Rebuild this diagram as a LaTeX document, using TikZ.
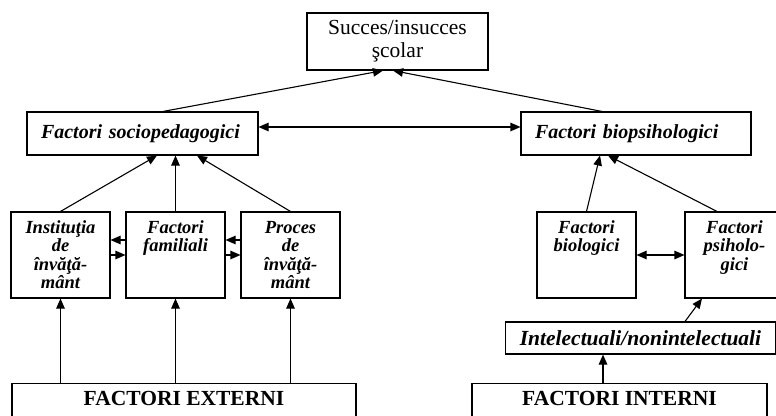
\documentclass[tikz,border=0pt]{standalone}
\usepackage{fontspec}
\setmainfont{Liberation Serif}
\usepackage{tikz}
\usetikzlibrary{arrows.meta,calc}
\tikzset{
  box/.style={draw, line width=1.1pt, inner sep=0pt, align=center},
  titlebox/.style={box, minimum width=181pt, minimum height=57pt, font=\fontsize{21.5}{23}\selectfont},
  groupbox/.style={box, align=left, inner xsep=14pt, minimum height=43pt, font=\fontsize{20}{22}\selectfont\bfseries\itshape},
  factbox/.style={box, text width=99pt, text height=21pt, text depth=65pt, font=\fontsize{18.5}{18.5}\selectfont\bfseries\itshape},
  basebox/.style={box, anchor=north, text height=22pt, text depth=20pt, font=\fontsize{21.5}{23}\selectfont\bfseries},
  arrow/.style={-{Triangle[length=10pt,width=8.5pt]}, line width=1.1pt},
  darrow/.style={{Triangle[length=10pt,width=8.5pt]}-{Triangle[length=10pt,width=8.5pt]}, line width=1.1pt}
}

\begin{document}
\begin{tikzpicture}[x=1pt,y=-1pt]
    \useasboundingbox (0,0) rectangle (776,415);
    \clip (0,0) rectangle (776,415);
    % Top
    \node[titlebox] (succes) at (397.5,41.5) {Succes/insucces\\şcolar};
    \node[groupbox, text width=203pt] (socio) at (142.5,133.5) {Factori sociopedagogici};
    \node[groupbox, text width=202pt] (biopsi) at (636,133.5) {Factori biopsihologici};
    % External factors
    \node[factbox] (inst) at (60.5,255) {Instituţia\\de\\învăţă-\\mânt};
    \node[factbox] (fam) at (175.5,255) {Factori\\familiali};
    \node[factbox] (proc) at (290.5,255) {Proces\\de\\învăţă-\\mânt};
    \node[basebox, minimum width=344pt] (ext) at (184,383) {FACTORI EXTERNI};
    % Internal factors
    \node[factbox] (bio) at (586.5,255) {Factori\\biologici};
    \node[factbox] (psih) at (734.5,255) {Factori\\psiholo-\\gici};
    \node[groupbox, minimum height=32pt, font=\fontsize{21.5}{23}\selectfont\bfseries\itshape] (intel) at (640.5,338) {Intelectuali/nonintelectuali};
    \node[basebox, minimum width=295pt] (int) at (619.5,383) {FACTORI INTERNI};
    % Arrows to the top
    \draw[arrow] ([xshift=20.5pt]socio.north) -- ([xshift=-14.5pt]succes.south);
    \draw[arrow] ([xshift=-34pt]biopsi.north) -- ([xshift=-4.5pt]succes.south);
    \draw[darrow] ([yshift=6.5pt]socio.east) -- ([yshift=6.5pt]biopsi.west);
    % Left branch
    \draw[arrow] (inst.north) -- ([xshift=14.5pt]socio.south);
    \draw[arrow] (fam.north) -- (fam.north |- socio.south);
    \draw[arrow] (proc.north) -- ([xshift=54.5pt]socio.south);
    \draw[arrow] ([yshift=15pt]fam.west) -- ([yshift=15pt]inst.east);
    \draw[arrow] (inst.east) -- (fam.west);
    \draw[arrow] ([yshift=15pt]proc.west) -- ([yshift=15pt]fam.east);
    \draw[arrow] (fam.east) -- (proc.west);
    \foreach \n in {inst,fam,proc} {\draw[arrow] (ext.north -| \n.south) -- (\n.south);}
    % Right branch
    \draw[arrow] (bio.north) -- ([xshift=-36pt]biopsi.south);
    \draw[arrow] ([xshift=-17.5pt]psih.north) -- ([xshift=-28pt]biopsi.south);
    \draw[darrow] (bio.east) -- (psih.west);
    \draw[arrow] ([xshift=44.5pt]intel.north) -- ([xshift=-32.5pt]psih.south);
    \draw[arrow] ([xshift=-16.5pt]int.north) -- ([xshift=-16.5pt]int.north |- intel.south);
\end{tikzpicture}
\end{document}
